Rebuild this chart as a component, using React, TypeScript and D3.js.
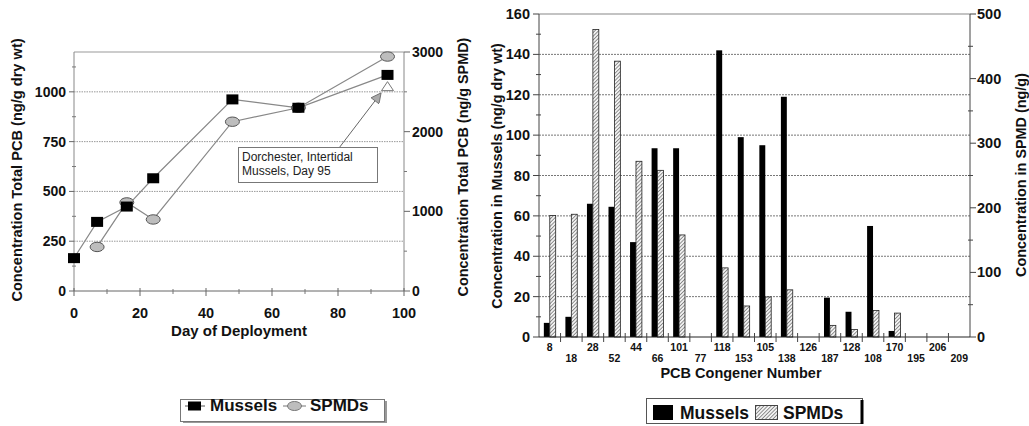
import React from "react";
import * as d3 from "d3";

// ---------- Left panel data ----------
const musselDays = [0, 7, 16, 24, 48, 68, 95];
const musselTotal = [165, 347, 424, 566, 962, 920, 1085]; // ng/g dry wt
const spmdDays = [7, 16, 24, 48, 68, 95];
const spmdTotal = [553, 1112, 898, 2125, 2300, 2943]; // ng/g SPMD
const dorchesterDay = [95];
const dorchesterValue = [1026];
const leftYTicks = [0, 250, 500, 750, 1000];
const leftY2Ticks = [0, 1000, 2000, 3000];
const leftXTicks = [0, 20, 40, 60, 80, 100];

// ---------- Right panel data ----------
const congeners = ["8", "18", "28", "52", "44", "66", "101", "77", "118", "153", "105", "138", "126", "187", "128", "108", "170", "195", "206", "209"];
const musselCong = [7, 10, 66, 64.5, 47, 93.5, 93.5, 0, 142, 99, 95, 119, 0, 19.5, 12.5, 55, 3, 0, 0, 0]; // ng/g dry wt
const spmdCong = [188, 190, 476, 427, 272, 258, 158, 0, 107, 48, 62, 73, 0, 18, 11.5, 41, 37, 0, 0, 0]; // ng/g
const rightYTicks = [0, 20, 40, 60, 80, 100, 120, 140, 160];
const rightY2Ticks = [0, 100, 200, 300, 400, 500];

const FONT = "'Liberation Sans', Arial, Helvetica, sans-serif";

export default function App() {
  // left panel scales
  const xL = d3.scaleLinear().domain([0, 100]).range([74, 404]);
  const yL = d3.scaleLinear().domain([0, 1200]).range([291, 52]);
  const yL2 = d3.scaleLinear().domain([0, 3000]).range([291, 52]);
  const lineL = d3.line<[number, number]>().x((d) => xL(d[0])).y((d) => yL(d[1]));
  const lineL2 = d3.line<[number, number]>().x((d) => xL(d[0])).y((d) => yL2(d[1]));
  const musselPts: [number, number][] = musselDays.map((d, i) => [d, musselTotal[i]]);
  const spmdPts: [number, number][] = spmdDays.map((d, i) => [d, spmdTotal[i]]);

  // right panel scales
  const xB = d3.scaleBand<string>().domain(congeners).range([539, 970]).padding(0);
  const yB = d3.scaleLinear().domain([0, 160]).range([337, 14]);
  const yB2 = d3.scaleLinear().domain([0, 500]).range([337, 14]);
  const bw = xB.bandwidth();
  const barW = bw * 0.275;

  const leftMinorY = d3.range(125, 1200, 250);
  const leftMinorY2 = d3.range(500, 3000, 1000);
  const leftMinorX = d3.range(10, 100, 20);
  const rightMinorY = d3.range(10, 160, 20);
  const rightMinorY2 = d3.range(50, 500, 100);

  const dx = xL(dorchesterDay[0]);
  const dy = yL(dorchesterValue[0]);

  return (
    <svg width={1029} height={426} style={{ position: "absolute", left: 0, top: 0, background: "#fff" }} fontFamily={FONT}>
      <defs>
        <pattern id="hatch" width="2.6" height="2.6" patternUnits="userSpaceOnUse" patternTransform="rotate(45)">
          <rect width="2.6" height="2.6" fill="#f2f2f2" />
          <line x1="0" y1="0" x2="0" y2="2.6" stroke="#444" strokeWidth="1.1" />
        </pattern>
        <marker id="arrowHead" viewBox="0 0 10 10" refX="9" refY="5" markerWidth="12" markerHeight="10" orient="auto" markerUnits="userSpaceOnUse">
          <path d="M0,0 L10,5 L0,10 Z" fill="#aaa" stroke="#666" strokeWidth="0.8" />
        </marker>
      </defs>
      <rect width={1029} height={426} fill="#fff" />

      {/* ================= LEFT PANEL ================= */}
      {leftYTicks.filter((t) => t > 0).map((t) => (
        <line key={"lg" + t} x1={xL(0)} x2={xL(100)} y1={yL(t)} y2={yL(t)} stroke="#999" strokeWidth={1} strokeDasharray="1.5,1" />
      ))}
      <line x1={xL(0)} x2={xL(100)} y1={yL(1200)} y2={yL(1200)} stroke="#999" strokeWidth={1} />
      <line x1={xL(0)} x2={xL(0)} y1={yL(0)} y2={yL(1200)} stroke="#888" strokeWidth={1} />
      <line x1={xL(100)} x2={xL(100)} y1={yL(0)} y2={yL(1200)} stroke="#888" strokeWidth={1} />
      <line x1={xL(0)} x2={xL(100)} y1={yL(0)} y2={yL(0)} stroke="#666" strokeWidth={1} />
      {leftYTicks.map((t) => (
        <g key={"ly" + t}>
          <line x1={xL(0) - 5} x2={xL(0)} y1={yL(t)} y2={yL(t)} stroke="#666" />
          <text x={xL(0) - 8} y={yL(t)} dy="0.35em" textAnchor="end" fontSize={14} fontWeight="bold" fill="#111">{t}</text>
        </g>
      ))}
      {leftMinorY.map((t) => (
        <line key={"lym" + t} x1={xL(0) - 2} x2={xL(0) + 2} y1={yL(t)} y2={yL(t)} stroke="#777" />
      ))}
      {leftY2Ticks.map((t) => (
        <g key={"ly2" + t}>
          <line x1={xL(100)} x2={xL(100) + 6} y1={yL2(t)} y2={yL2(t)} stroke="#666" />
          <text x={xL(100) + 8} y={yL2(t)} dy="0.35em" textAnchor="start" fontSize={14} fontWeight="bold" fill="#111">{t}</text>
        </g>
      ))}
      {leftMinorY2.map((t) => (
        <line key={"ly2m" + t} x1={xL(100)} x2={xL(100) + 3} y1={yL2(t)} y2={yL2(t)} stroke="#777" />
      ))}
      {leftXTicks.map((t) => (
        <g key={"lx" + t}>
          <line x1={xL(t)} x2={xL(t)} y1={yL(0) - 3} y2={yL(0) + 5} stroke="#666" />
          <text x={xL(t)} y={yL(0) + 22} dy="0.35em" textAnchor="middle" fontSize={14.5} fontWeight="bold" fill="#111">{t}</text>
        </g>
      ))}
      {leftMinorX.map((t) => (
        <line key={"lxm" + t} x1={xL(t)} x2={xL(t)} y1={yL(0) - 2} y2={yL(0) + 3} stroke="#777" />
      ))}
      <text x={xL(50)} y={331} dy="0.35em" textAnchor="middle" fontSize={15} fontWeight="bold" fill="#111">Day of Deployment</text>
      <text transform={`translate(17,170) rotate(-90)`} textAnchor="middle" dy="0.35em" fontSize={14.6} fontWeight="bold" fill="#111">Concentration Total PCB (ng/g dry wt)</text>
      <text transform={`translate(463,167) rotate(-90)`} textAnchor="middle" dy="0.35em" fontSize={14.4} fontWeight="bold" fill="#111">Concentration Total PCB (ng/g SPMD)</text>

      <path d={lineL(musselPts) || ""} fill="none" stroke="#888" strokeWidth={1.2} />
      <path d={lineL2(spmdPts) || ""} fill="none" stroke="#888" strokeWidth={1.2} />
      {spmdPts.map((p, i) => (
        <ellipse key={"se" + i} cx={xL(p[0])} cy={yL2(p[1])} rx={7} ry={4.7} fill="#bdbdbd" stroke="#555" strokeWidth={1} />
      ))}
      {musselPts.map((p, i) => (
        <rect key={"ms" + i} x={xL(p[0]) - 6} y={yL(p[1]) - 5} width={12} height={10} fill="#000" />
      ))}
      <path d={`M${dx},${dy - 5} L${dx + 6},${dy + 4} L${dx - 6},${dy + 4} Z`} fill="#fff" stroke="#777" strokeWidth={1} />
      <line x1={339} y1={148} x2={dx - 7} y2={dy + 7} stroke="#666" strokeWidth={1} markerEnd="url(#arrowHead)" />
      <rect x={238.5} y={147.5} width={139} height={35} fill="#fff" stroke="#777" strokeWidth={1} />
      <text x={242} y={157} dy="0.35em" fontSize={12} fill="#222">Dorchester, Intertidal</text>
      <text x={242} y={171} dy="0.35em" fontSize={12} fill="#222">Mussels, Day 95</text>

      {/* left legend */}
      <rect x={183} y={401} width={204} height={22} fill="#999" />
      <rect x={180.5} y={399.5} width={204} height={22} fill="#fff" stroke="#777" strokeWidth={1} />
      <line x1={185} x2={205} y1={406} y2={406} stroke="#555" />
      <rect x={188} y={401.5} width={13} height={9} fill="#000" />
      <text x={210} y={411} fontSize={17} fontWeight="bold" fill="#111">Mussels</text>
      <line x1={283} x2={306} y1={406} y2={406} stroke="#777" />
      <ellipse cx={294.5} cy={406} rx={7} ry={4.5} fill="#bdbdbd" stroke="#777" />
      <text x={310} y={411} fontSize={17} fontWeight="bold" fill="#111">SPMDs</text>

      {/* ================= RIGHT PANEL ================= */}
      {rightYTicks.filter((t) => t > 0 && t < 160).map((t) => (
        <line key={"rg" + t} x1={539} x2={970} y1={yB(t)} y2={yB(t)} stroke="#777" strokeWidth={1} strokeDasharray="2,1" />
      ))}
      <line x1={539} x2={970} y1={yB(160)} y2={yB(160)} stroke="#888" strokeWidth={1.2} />
      {congeners.map((c, i) => {
        const cx = (xB(c) as number) + bw / 2;
        return (
          <g key={"b" + c}>
            {musselCong[i] > 0 && (
              <rect x={cx - barW} y={yB(musselCong[i])} width={barW} height={yB(0) - yB(musselCong[i])} fill="#000" />
            )}
            {spmdCong[i] > 0 && (
              <rect x={cx} y={yB2(spmdCong[i])} width={barW} height={yB2(0) - yB2(spmdCong[i])} fill="url(#hatch)" stroke="#222" strokeWidth={0.8} />
            )}
          </g>
        );
      })}
      <line x1={539} x2={539} y1={yB(0)} y2={yB(160)} stroke="#444" strokeWidth={1} />
      <line x1={970} x2={970} y1={yB(0)} y2={yB(160)} stroke="#444" strokeWidth={1} />
      <line x1={539} x2={970} y1={yB(0)} y2={yB(0)} stroke="#222" strokeWidth={1} />
      {rightYTicks.map((t) => (
        <g key={"ry" + t}>
          <line x1={533} x2={539} y1={yB(t)} y2={yB(t)} stroke="#444" />
          <text x={530} y={yB(t)} dy="0.35em" textAnchor="end" fontSize={14.5} fontWeight="bold" fill="#111">{t}</text>
        </g>
      ))}
      {rightMinorY.map((t) => (
        <line key={"rym" + t} x1={536} x2={541} y1={yB(t)} y2={yB(t)} stroke="#444" />
      ))}
      {rightY2Ticks.map((t) => (
        <g key={"ry2" + t}>
          <line x1={970} x2={976} y1={yB2(t)} y2={yB2(t)} stroke="#444" />
          <text x={977} y={yB2(t)} dy="0.35em" textAnchor="start" fontSize={14.5} fontWeight="bold" fill="#111">{t}</text>
        </g>
      ))}
      {rightMinorY2.map((t) => (
        <line key={"ry2m" + t} x1={968} x2={973} y1={yB2(t)} y2={yB2(t)} stroke="#444" />
      ))}
      {congeners.map((c, i) => (
        <g key={"cx" + c}>
          {i > 0 && <line x1={xB(c) as number} x2={xB(c) as number} y1={yB(0) - 4} y2={yB(0) + 5} stroke="#444" />}
          <text x={(xB(c) as number) + bw / 2} y={i % 2 === 0 ? 347 : 358.5} dy="0.35em" textAnchor="middle" fontSize={10.5} fontWeight="bold" fill="#111">{c}</text>
        </g>
      ))}
      <text x={741} y={373} dy="0.35em" textAnchor="middle" fontSize={14.5} fontWeight="bold" fill="#111">PCB Congener Number</text>
      <text transform={`translate(497,176) rotate(-90)`} textAnchor="middle" dy="0.35em" fontSize={14.4} fontWeight="bold" fill="#111">Concentration in Mussels (ng/g dry wt)</text>
      <text transform={`translate(1021,175) rotate(-90)`} textAnchor="middle" dy="0.35em" fontSize={14.4} fontWeight="bold" fill="#111">Concentration in SPMD (ng/g)</text>

      {/* right legend */}
      <rect x={646.5} y={398.5} width={216} height={25} fill="#fff" stroke="#555" strokeWidth={1} />
      <line x1={862} x2={862} y1={400} y2={424} stroke="#000" strokeWidth={3} />
      <rect x={653} y={405} width={20} height={15} fill="#000" />
      <text x={680} y={419} fontSize={17.5} fontWeight="bold" fill="#111">Mussels</text>
      <rect x={755.5} y={405.5} width={22} height={14} fill="url(#hatch)" stroke="#444" strokeWidth={1} />
      <text x={783} y={419} fontSize={17.5} fontWeight="bold" fill="#111">SPMDs</text>
    </svg>
  );
}
